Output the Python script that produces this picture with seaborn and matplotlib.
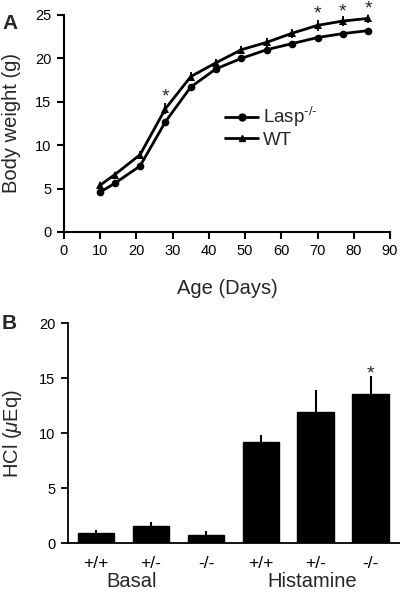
import matplotlib
matplotlib.use("Agg")
import matplotlib.pyplot as plt
import seaborn as sns
import numpy as np
import pandas as pd
from matplotlib.lines import Line2D

# ---- data ----
age_days = [10, 14, 21, 28, 35, 42, 49, 56, 63, 70, 77, 84]
lasp_weight = [4.6, 5.6, 7.6, 12.7, 16.7, 18.8, 20.0, 21.0, 21.7, 22.4, 22.85, 23.2]
wt_weight = [5.4, 6.6, 8.9, 14.2, 17.9, 19.5, 21.0, 21.85, 22.9, 23.8, 24.3, 24.6]
wt_err = [0.3, 0.3, 0.4, 0.6, 0.5, 0.4, 0.4, 0.5, 0.5, 0.6, 0.6, 0.5]
star_days = [28, 70, 77, 84]
star_weight = [16.2, 25.7, 26.0, 26.3]

genotypes = ["+/+", "+/-", "-/-", "+/+", "+/-", "-/-"]
conditions = ["Basal", "Basal", "Basal", "Histamine", "Histamine", "Histamine"]
hcl_values = [0.9, 1.57, 0.8, 9.24, 11.9, 13.55]
hcl_err = [0.3, 0.35, 0.3, 0.65, 2.0, 1.65]
hcl_star_index = 5
hcl_star_y = 15.9
group_label_x = {"Basal": 0.65, "Histamine": 3.93}

sns.set_theme(style="ticks")
plt.rcParams["font.family"] = ["Liberation Sans", "DejaVu Sans"]
plt.rcParams["mathtext.fontset"] = "custom"
plt.rcParams["mathtext.it"] = "Liberation Sans:italic"
plt.rcParams["mathtext.rm"] = "Liberation Sans"

fig = plt.figure(figsize=(4.0, 5.93), dpi=100)
ax1 = fig.add_axes([0.16, 0.6088, 0.815, 0.366])
ax2 = fig.add_axes([0.17, 0.0838, 0.83, 0.371])

lw = 2.0
# ---- panel A ----
dfA = pd.DataFrame({
    "Age": age_days * 2,
    "Weight": lasp_weight + wt_weight,
    "Group": ["Lasp"] * len(age_days) + ["WT"] * len(age_days),
})
sns.lineplot(data=dfA, x="Age", y="Weight", hue="Group", style="Group",
             palette={"Lasp": "black", "WT": "black"},
             markers={"Lasp": "o", "WT": "^"}, dashes=False,
             markersize=5.5, linewidth=lw, markeredgewidth=0, ax=ax1,
             legend=False, clip_on=False)
ax1.errorbar(age_days, wt_weight, yerr=wt_err, fmt="none", ecolor="black",
             elinewidth=1.3, capsize=0)
for xs, ys in zip(star_days, star_weight):
    ax1.annotate("*", (xs, ys), xytext=(0, -4), textcoords="offset points",
                 ha="center", va="center", fontsize=14, annotation_clip=False)

handles = [Line2D([], [], color="black", lw=lw, marker="o", markersize=5),
           Line2D([], [], color="black", lw=lw, marker="^", markersize=4.5)]
ax1.legend(handles, [r"Lasp$^{\text{-/-}}$", "WT"], frameon=False,
           fontsize=13.5, loc="upper left", bbox_to_anchor=(0.495, 0.585),
           handlelength=1.75, handletextpad=0.25, labelspacing=0.15,
           borderaxespad=0, borderpad=0)

ax1.set_xlim(0, 90)
ax1.set_ylim(0, 25)
ax1.set_xticks(range(0, 91, 10))
ax1.set_yticks(range(0, 26, 5))
ax1.set_xlabel("Age (Days)", fontsize=14.5, labelpad=15)
ax1.set_ylabel("Body weight (g)", fontsize=14.5, labelpad=10)
for s in ["top", "right"]:
    ax1.spines[s].set_visible(False)
for s in ["left", "bottom"]:
    ax1.spines[s].set_linewidth(1.5)
    ax1.spines[s].set_color("black")
ax1.tick_params(direction="out", length=5, width=1.5, labelsize=10.5,
                colors="black", pad=4)
fig.text(0.005, 0.96, "A", fontsize=15, fontweight="bold", va="center")

# ---- panel B ----
dfB = pd.DataFrame({"pos": list(range(len(hcl_values))), "HCl": hcl_values})
sns.barplot(data=dfB, x="pos", y="HCl", color="black", width=0.67,
            errorbar=None, ax=ax2)
for p in ax2.patches:
    p.set_facecolor("black")
    p.set_edgecolor("black")
ax2.errorbar(range(len(hcl_values)), hcl_values,
             yerr=[np.zeros(len(hcl_err)), hcl_err], fmt="none",
             ecolor="black", elinewidth=1.5, capsize=0)
ax2.annotate("*", (hcl_star_index, hcl_star_y), xytext=(0, -4),
             textcoords="offset points", ha="center", va="center", fontsize=14)

ax2.set_xlim(-0.51, 5.53)
ax2.set_ylim(0, 20)
ax2.set_yticks(range(0, 21, 5))
ax2.set_xticks(range(len(genotypes)))
ax2.set_xticklabels(genotypes)
ax2.set_xlabel("")
ax2.set_ylabel(r"HCl ($\mathit{\mu}$Eq)", fontsize=14.5, labelpad=11)
for s in ["top", "right"]:
    ax2.spines[s].set_visible(False)
for s in ["left", "bottom"]:
    ax2.spines[s].set_linewidth(1.3)
    ax2.spines[s].set_color("black")
ax2.tick_params(axis="y", direction="out", length=5, width=1.3,
                labelsize=10.5, colors="black", pad=4)
ax2.tick_params(axis="x", length=0, labelsize=12.5, colors="black", pad=9)

trans = ax2.get_xaxis_transform()
for grp in ["Basal", "Histamine"]:
    ax2.text(group_label_x[grp], -0.175, grp, transform=trans, ha="center",
             va="center", fontsize=14.5)
fig.text(0.005, 0.455, "B", fontsize=15, fontweight="bold", va="center")

fig.savefig("out.png", dpi=100)
